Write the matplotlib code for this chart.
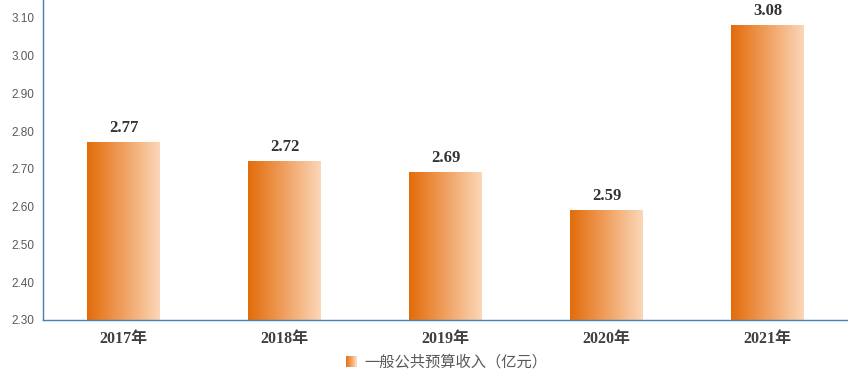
import numpy as np
import matplotlib
matplotlib.use("Agg")
import matplotlib.pyplot as plt
from matplotlib.colors import LinearSegmentedColormap
from matplotlib.legend_handler import HandlerBase
from matplotlib.patches import Rectangle

categories = ["2017年", "2018年", "2019年", "2020年", "2021年"]
values = [2.77, 2.72, 2.69, 2.59, 3.08]
series_name = "一般公共预算收入（亿元）"
yticks = [2.30, 2.40, 2.50, 2.60, 2.70, 2.80, 2.90, 3.00, 3.10]

c_dark = "#E36C0A"
c_light = "#FBD7B8"
cmap = LinearSegmentedColormap.from_list("og", [c_dark, "#F0A060", c_light])
spine_c = "#4A7EBB"

fig = plt.figure(figsize=(8.48, 3.76), dpi=100)
ax = fig.add_axes([43/848, 56/376, 1 - 43/848, 1 - 56/376])
ymin, ymax = 2.30, 3.10 + 18/377.5
ax.set_xlim(-0.5, 4.5)
ax.set_ylim(ymin, ymax)

x = np.arange(len(categories))
bars = ax.bar(x, values, width=0.45, color="none", edgecolor="none", zorder=2)
grad = np.linspace(0, 1, 256).reshape(1, -1)
for b in bars:
    x0 = b.get_x()
    top = b.get_y() + b.get_height()
    ax.imshow(grad, extent=[x0, x0 + b.get_width(), ymin, top],
              aspect="auto", cmap=cmap, zorder=2, interpolation="bilinear")

for xi, v in zip(x, values):
    ax.annotate(f"{v:.2f}", (xi, v), xytext=(0, 5), textcoords="offset points",
                ha="center", va="bottom", fontsize=12, fontweight="bold",
                family=["Liberation Serif", "Noto Sans CJK SC"], color="#333333")

ax.set_xlim(-0.5, 4.5)
ax.set_ylim(ymin, ymax)
ax.set_yticks(yticks)
ax.set_yticklabels([f"{t:.2f}" for t in yticks], fontsize=8.5,
                   family=["Liberation Sans"], color="#595959")
ax.set_xticks(x)
ax.set_xticklabels(categories, fontsize=11.5, fontweight="bold",
                   family=["Liberation Serif", "Noto Sans CJK SC"], color="#404040")
ax.tick_params(axis="y", length=0, pad=6)
ax.tick_params(axis="x", length=0, pad=8)
for s in ["top", "right"]:
    ax.spines[s].set_visible(False)
for s in ["left", "bottom"]:
    ax.spines[s].set_color(spine_c)
    ax.spines[s].set_linewidth(1.0)
    ax.spines[s].set_zorder(3)


class GradHandler(HandlerBase):
    def create_artists(self, legend, orig_handle, xdescent, ydescent, width, height, fontsize, trans):
        n = 12
        size = height * 1.0
        x0 = -xdescent + width - size
        arts = []
        for i in range(n):
            r = Rectangle((x0 + size * i / n, -ydescent), size / n + 0.2, size,
                          facecolor=cmap(i / (n - 1)), edgecolor="none", transform=trans)
            arts.append(r)
        return arts


h = Rectangle((0, 0), 1, 1)
leg = fig.legend([h], [series_name], handler_map={Rectangle: GradHandler()},
                 loc="center", bbox_to_anchor=(445.5/848, 1 - 362/376), frameon=False,
                 prop={"family": ["Noto Sans CJK SC"], "size": 11},
                 handlelength=0.8, handletextpad=0.5)
for t in leg.get_texts():
    t.set_color("#595959")

fig.savefig("out.png", dpi=100)
